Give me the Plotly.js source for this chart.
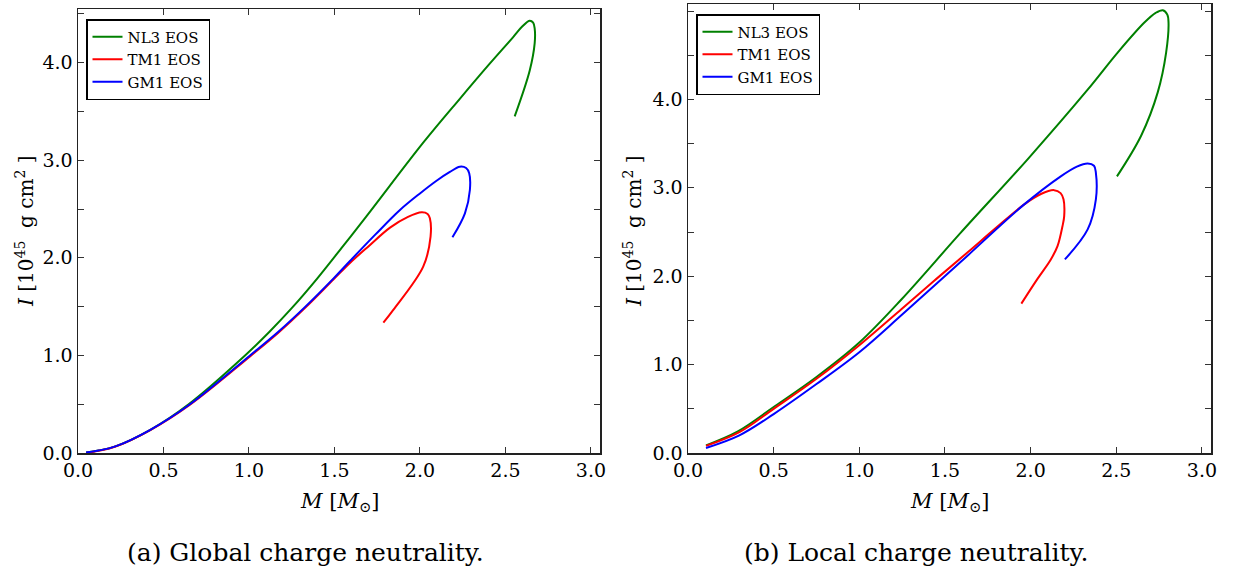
<!DOCTYPE html>
<html>
<head>
<meta charset="utf-8">
<script src="https://cdn.plot.ly/plotly-3.0.1.min.js"></script>
<style>html,body{margin:0;padding:0;background:#fff;}#chart{width:1233px;height:574px;}</style>
</head>
<body>
<div id="chart"></div>
<script>
// ---- Data: (a) global charge neutrality ----
const globalNL3_M = [0.047, 0.12, 0.219, 0.423, 0.647, 0.977, 1.12, 1.25, 1.40, 1.55, 1.689, 2.019, 2.233, 2.408, 2.544, 2.598, 2.642, 2.662, 2.671, 2.671, 2.642, 2.554];
const globalNL3_I = [0.006, 0.025, 0.068, 0.238, 0.50, 1.00, 1.243, 1.484, 1.79, 2.12, 2.43, 3.18, 3.63, 3.99, 4.26, 4.37, 4.43, 4.41, 4.35, 4.20, 3.92, 3.45];
const globalTM1_M = [0.047, 0.12, 0.219, 0.423, 0.655, 1.006, 1.17, 1.33, 1.495, 1.592, 1.70, 1.825, 1.93, 2.01, 2.045, 2.058, 2.062, 2.019, 1.844, 1.786];
const globalTM1_I = [0.0, 0.022, 0.066, 0.235, 0.495, 0.99, 1.23, 1.49, 1.78, 1.95, 2.12, 2.31, 2.42, 2.467, 2.45, 2.405, 2.217, 1.91, 1.467, 1.336];
const globalGM1_M = [0.047, 0.12, 0.219, 0.423, 0.655, 1.006, 1.17, 1.33, 1.495, 1.592, 1.74, 1.883, 2.0, 2.097, 2.175, 2.233, 2.27, 2.288, 2.292, 2.263, 2.19];
const globalGM1_I = [0.006, 0.025, 0.068, 0.238, 0.50, 1.00, 1.24, 1.50, 1.79, 1.97, 2.24, 2.49, 2.66, 2.79, 2.88, 2.934, 2.92, 2.866, 2.695, 2.456, 2.21];

// ---- Data: (b) local charge neutrality ----
const localNL3_M = [0.105, 0.291, 0.5, 0.75, 1.0, 1.247, 1.591, 1.981, 2.333, 2.508, 2.664, 2.73, 2.772, 2.798, 2.805, 2.791, 2.742, 2.645, 2.504];
const localNL3_I = [0.087, 0.245, 0.52, 0.86, 1.25, 1.74, 2.49, 3.32, 4.11, 4.53, 4.87, 4.98, 5.01, 4.96, 4.87, 4.53, 4.08, 3.59, 3.13];
const localTM1_M = [0.105, 0.30, 0.5, 0.75, 1.0, 1.247, 1.45, 1.638, 1.80, 1.961, 2.06, 2.137, 2.175, 2.192, 2.196, 2.186, 2.157, 2.118, 2.04, 1.946];
const localTM1_I = [0.08, 0.235, 0.50, 0.84, 1.22, 1.63, 1.97, 2.28, 2.55, 2.81, 2.93, 2.974, 2.94, 2.87, 2.68, 2.566, 2.34, 2.19, 1.97, 1.69];
const localGM1_M = [0.105, 0.30, 0.5, 0.75, 1.0, 1.247, 1.591, 1.961, 2.176, 2.27, 2.333, 2.37, 2.381, 2.381, 2.333, 2.20];
const localGM1_I = [0.057, 0.20, 0.44, 0.78, 1.14, 1.56, 2.16, 2.81, 3.13, 3.24, 3.276, 3.25, 3.17, 2.87, 2.53, 2.19];

const seriesNames = ['NL3 EOS', 'TM1 EOS', 'GM1 EOS'];
const seriesColors = ['#008000', '#ff0000', '#0000ff'];
const xTickVals = [0, 0.5, 1.0, 1.5, 2.0, 2.5, 3.0];
const xTickText = ['0.0', '0.5', '1.0', '1.5', '2.0', '2.5', '3.0'];
const yTickValsA = [0, 0.5, 1, 1.5, 2, 2.5, 3, 3.5, 4, 4.5];
const yTickTextA = ['0.0', '', '1.0', '', '2.0', '', '3.0', '', '4.0', ''];
const yTickValsB = [0, 0.5, 1, 1.5, 2, 2.5, 3, 3.5, 4, 4.5, 5];
const yTickTextB = ['0.0', '', '1.0', '', '2.0', '', '3.0', '', '4.0', '', '5.0'];
const captions = ['(a) Global charge neutrality.', '(b) Local charge neutrality.'];
const xTitle = '<i>M</i> [<i>M</i><sub>⊙</sub>]';
const yTitle = '<i>I</i> [10<sup>45</sup>  g cm<sup>2</sup> ]';

const FONT = 'DejaVu Serif';

const globalData = [[globalNL3_M, globalNL3_I], [globalTM1_M, globalTM1_I], [globalGM1_M, globalGM1_I]];
const localData = [[localNL3_M, localNL3_I], [localTM1_M, localTM1_I], [localGM1_M, localGM1_I]];

const traces = [];
globalData.forEach((d, i) => traces.push({
  x: d[0], y: d[1], type: 'scatter', mode: 'lines', name: seriesNames[i],
  line: {color: seriesColors[i], width: 2, shape: 'spline', smoothing: 1},
  xaxis: 'x', yaxis: 'y', legend: 'legend'
}));
localData.forEach((d, i) => traces.push({
  x: d[0], y: d[1], type: 'scatter', mode: 'lines', name: seriesNames[i],
  line: {color: seriesColors[i], width: 2, shape: 'spline', smoothing: 1},
  xaxis: 'x2', yaxis: 'y2', legend: 'legend2'
}));

function xax(domain) {
  return {domain: domain, range: [0, 3.053], tickmode: 'array', tickvals: xTickVals, ticktext: xTickText,
    ticks: 'inside', ticklen: 6, tickwidth: 1, tickcolor: '#333', showline: true, linecolor: '#222', linewidth: 1.5,
    mirror: 'ticks', showgrid: false, zeroline: false, tickfont: {family: FONT, size: 19, color: '#000'}, fixedrange: true};
}
function yax(domain, range, vals, text, anchor) {
  return {domain: domain, range: range, tickmode: 'array', tickvals: vals, ticktext: text, anchor: anchor,
    ticks: 'inside', ticklen: 6, tickwidth: 1, tickcolor: '#333', showline: true, linecolor: '#222', linewidth: 1.5,
    mirror: 'ticks', showgrid: false, zeroline: false, tickfont: {family: FONT, size: 19, color: '#000'}, fixedrange: true};
}

const W = 1233, H = 574;
const legendStyle = {xanchor: 'left', yanchor: 'top', bgcolor: '#fff', bordercolor: '#000', borderwidth: 1.5,
  font: {family: FONT, size: 15, color: '#000'}, tracegroupgap: 0, itemwidth: 30};
const layout = {
  width: W, height: H, margin: {l: 0, r: 0, t: 0, b: 0}, paper_bgcolor: '#fff', plot_bgcolor: '#fff',
  showlegend: true, font: {family: FONT},
  xaxis: Object.assign(xax([78 / W, 600 / W]), {anchor: 'y'}),
  yaxis: yax([1 - 453 / H, 1 - 9 / H], [0, 4.55], yTickValsA, yTickTextA, 'x'),
  xaxis2: Object.assign(xax([688 / W, 1211 / W]), {anchor: 'y2'}),
  yaxis2: yax([1 - 453 / H, 1 - 4 / H], [0, 5.08], yTickValsB, yTickTextB, 'x2'),
  legend: Object.assign({x: 86 / W, y: 1 - 19 / H}, legendStyle),
  legend2: Object.assign({x: 696 / W, y: 1 - 14 / H}, legendStyle),
  annotations: [
    {text: xTitle, xref: 'paper', yref: 'paper', x: 339 / W, y: 1 - 502 / H, showarrow: false, xanchor: 'center', yanchor: 'middle', font: {family: FONT, size: 21, color: '#000'}},
    {text: xTitle, xref: 'paper', yref: 'paper', x: 949 / W, y: 1 - 502 / H, showarrow: false, xanchor: 'center', yanchor: 'middle', font: {family: FONT, size: 21, color: '#000'}},
    {text: yTitle, xref: 'paper', yref: 'paper', x: 25 / W, y: 1 - 232 / H, showarrow: false, xanchor: 'center', yanchor: 'middle', textangle: -90, font: {family: FONT, size: 20, color: '#000'}},
    {text: yTitle, xref: 'paper', yref: 'paper', x: 633 / W, y: 1 - 232 / H, showarrow: false, xanchor: 'center', yanchor: 'middle', textangle: -90, font: {family: FONT, size: 20, color: '#000'}},
    {text: captions[0], xref: 'paper', yref: 'paper', x: 305 / W, y: 1 - 552 / H, showarrow: false, xanchor: 'center', yanchor: 'middle', font: {family: FONT, size: 25, color: '#000'}},
    {text: captions[1], xref: 'paper', yref: 'paper', x: 916 / W, y: 1 - 552 / H, showarrow: false, xanchor: 'center', yanchor: 'middle', font: {family: FONT, size: 25, color: '#000'}}
  ]
};

Plotly.newPlot('chart', traces, layout, {staticPlot: true, displayModeBar: false});
</script>
</body>
</html>
